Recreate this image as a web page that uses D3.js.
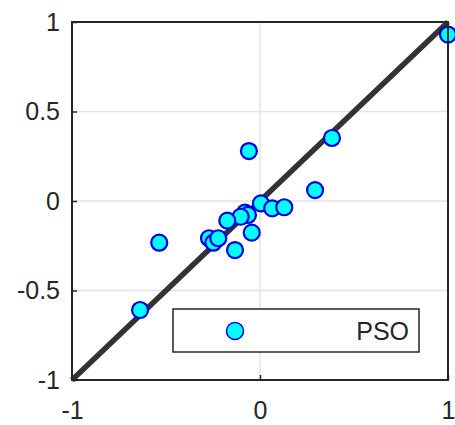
<!DOCTYPE html>
<html>
<head>
<meta charset="utf-8">
<script src="https://cdn.jsdelivr.net/npm/d3@7"></script>
<style>
  body { margin: 0; background: white; }
  svg text { font-family: "Liberation Sans", Arial, sans-serif; fill: #262626; }
</style>
</head>
<body>
<div id="chart"></div>
<script>
'use strict';

// scatter of predicted vs actual, PSO
const seriesName = "PSO";
const xValues = [1.0, 0.383, -0.059, 0.293, 0.005, 0.065, 0.129, -0.08, -0.064, -0.103, -0.174, -0.044, -0.271, -0.248, -0.222, -0.133, -0.536, -0.638];
const yValues = [0.93, 0.352, 0.279, 0.061, -0.013, -0.041, -0.035, -0.065, -0.078, -0.088, -0.110, -0.177, -0.208, -0.233, -0.208, -0.274, -0.233, -0.609];
const xTicks = [-1, 0, 1];
const yTicks = [-1, -0.5, 0, 0.5, 1];
const diagonal = [[-1, -1], [1, 1]];

const Color = {
  Axis: `#262626`,
  Grid: `#e3e3e3`,
  Line: `#333333`,
  Fill: `#00ffff`,
  Edge: `#0000e6`,
};

// plain hyphen for negatives, like the original figure
const fmt = d => String(d);

// set the dimensions and margins of the graph
const margin = {top: 22, right: 7, bottom: 45, left: 72},
    width = 455 - margin.left - margin.right,
    height = 425 - margin.top - margin.bottom;

const svg = d3.select("#chart")
  .append("svg")
    .attr("width", 455)
    .attr("height", 425)
  .append("g")
    .attr("transform", `translate(${margin.left}, ${margin.top})`);

const x = d3.scaleLinear().domain([-1, 1]).range([0, width]);
const y = d3.scaleLinear().domain([-1, 1]).range([height, 0]);

// grid
svg.append("g")
  .selectAll("line")
  .data(xTicks)
  .enter()
  .append("line")
    .attr("x1", d => x(d)).attr("x2", d => x(d))
    .attr("y1", 0).attr("y2", height)
    .attr("stroke", Color.Grid)
    .attr("stroke-width", 1.5);

svg.append("g")
  .selectAll("line")
  .data(yTicks)
  .enter()
  .append("line")
    .attr("x1", 0).attr("x2", width)
    .attr("y1", d => y(d)).attr("y2", d => y(d))
    .attr("stroke", Color.Grid)
    .attr("stroke-width", 1.5);

// axes (ticks point inwards)
const xAxis = svg.append("g")
  .attr("transform", `translate(0,${height})`)
  .call(d3.axisBottom(x).tickValues(xTicks).tickFormat(fmt).tickSizeInner(-5).tickSizeOuter(0));

const yAxis = svg.append("g")
  .call(d3.axisLeft(y).tickValues(yTicks).tickFormat(fmt).tickSizeInner(-5).tickSizeOuter(0).tickPadding(12));

[xAxis, yAxis].forEach(a => {
  a.select(".domain").remove();
  a.selectAll("line").attr("stroke", Color.Axis).attr("stroke-width", 1.5);
  a.selectAll("text")
    .style("font-size", "25px")
    .attr("fill", Color.Axis);
});
// keep the descenders inside the window
xAxis.selectAll("text").attr("y", 38.5).attr("dy", 0);

// diagonal
svg.append("line")
  .attr("x1", x(diagonal[0][0])).attr("y1", y(diagonal[0][1]))
  .attr("x2", x(diagonal[1][0])).attr("y2", y(diagonal[1][1]))
  .attr("stroke", Color.Line)
  .attr("stroke-width", 5.5);

// points
svg.append("g")
  .selectAll("circle")
  .data(xValues.map((d, i) => [d, yValues[i]]))
  .enter()
  .append("circle")
    .attr("cx", d => x(d[0]))
    .attr("cy", d => y(d[1]))
    .attr("r", 8)
    .attr("fill", Color.Fill)
    .attr("stroke", Color.Edge)
    .attr("stroke-width", 2.2);

// box
svg.append("rect")
  .attr("x", 0).attr("y", 0)
  .attr("width", width).attr("height", height)
  .attr("fill", "none")
  .attr("stroke", Color.Axis)
  .attr("stroke-width", 2);

// legend
const legend = svg.append("g")
  .attr("transform", `translate(${173 - margin.left}, ${309 - margin.top})`);
legend.append("rect")
  .attr("width", 246).attr("height", 43)
  .attr("fill", "white")
  .attr("stroke", Color.Axis)
  .attr("stroke-width", 1.5);
legend.append("circle")
  .attr("cx", 62).attr("cy", 22)
  .attr("r", 8.5)
  .attr("fill", Color.Fill)
  .attr("stroke", Color.Edge)
  .attr("stroke-width", 1.5);
legend.append("text")
  .attr("x", 236).attr("y", 31)
  .attr("text-anchor", "end")
  .style("font-size", "25px")
  .text(seriesName);
</script>
</body>
</html>
